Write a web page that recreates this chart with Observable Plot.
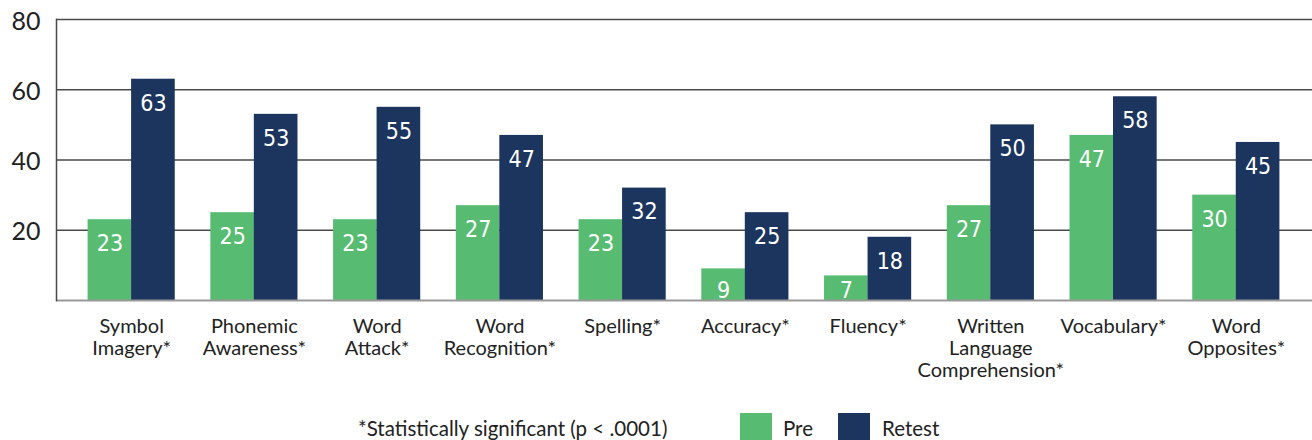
<!DOCTYPE html>
<html>
<head>
<meta charset="utf-8">
<script src="https://cdn.jsdelivr.net/npm/d3@7"></script>
<script src="https://cdn.jsdelivr.net/npm/@observablehq/plot@0.6"></script>
<style>
  html, body { margin: 0; padding: 0; background: #fff; }
  #chart { width: 1312px; }
  #legend { position: relative; width: 1312px; height: 35px; font-family: Lato, "Noto Sans", sans-serif; font-size: 20.5px; color: #222; overflow: hidden; }
  #legend .note { position: absolute; left: 358px; top: 11px; }
  #legend .sw { position: absolute; top: 8px; width: 32px; height: 32px; }
  #legend .lab { position: absolute; top: 11px; }
</style>
</head>
<body>
<div id="chart"></div>
<div id="legend"></div>
<script>
const categories = ["Symbol\nImagery*", "Phonemic\nAwareness*", "Word\nAttack*", "Word\nRecognition*", "Spelling*", "Accuracy*", "Fluency*", "Written\nLanguage\nComprehension*", "Vocabulary*", "Word\nOpposites*"];
const series = ["Pre", "Retest"];
const preValues = [23, 25, 23, 27, 23, 9, 7, 27, 47, 30];
const retestValues = [63, 53, 55, 47, 32, 25, 18, 50, 58, 45];
const yTicks = [20, 40, 60, 80];
const colors = ["#57bb72", "#1c355e"];
const note = "*Statistically significant (p < .0001)";

const data = [];
categories.forEach((c, i) => {
  data.push({category: c, series: "Pre", value: preValues[i]});
  data.push({category: c, series: "Retest", value: retestValues[i]});
});
const pre = data.filter(d => d.series === "Pre");
const retest = data.filter(d => d.series === "Retest");

const half = 43.5;
const labelFont = {fontFamily: '"Liberation Sans Narrow", "DejaVu Sans Condensed", sans-serif', fontSize: 23, fill: "white", dy: 24};

const chart = Plot.plot({
  width: 1312,
  height: 405,
  marginLeft: 56,
  marginRight: 0,
  marginTop: 19,
  marginBottom: 105,
  style: {fontFamily: 'Lato, "Noto Sans", sans-serif', color: "#222", background: "white"},
  x: {domain: categories, range: [52, 1315], padding: 0.29, round: false, label: null},
  y: {domain: [0, 80], label: null},
  color: {domain: series, range: colors},
  marks: [
    Plot.ruleY(yTicks, {stroke: "#4a4a4a", strokeWidth: 1.5}),
    Plot.barY(pre, {x: "category", y: "value", fill: "series", insetRight: half}),
    Plot.barY(retest, {x: "category", y: "value", fill: "series", insetLeft: half}),
    Plot.text(pre, {x: "category", y: d => Math.max(d.value, 9.7), text: "value", dx: -half / 2, ...labelFont}),
    Plot.text(retest, {x: "category", y: d => Math.max(d.value, 9.7), text: "value", dx: half / 2, ...labelFont}),
    Plot.ruleY([0], {stroke: "#999", strokeWidth: 2}),
    Plot.frame({anchor: "left", stroke: "#4a4a4a", strokeWidth: 1.5}),
    Plot.axisY({ticks: yTicks, tickSize: 0, tickPadding: 16, fontSize: 25, label: null, dy: 2}),
    Plot.axisX({tickSize: 0, tickPadding: 17, fontSize: 20, lineHeight: 1.1, label: null})
  ]
});
document.getElementById("chart").appendChild(chart);

const legend = document.getElementById("legend");
legend.innerHTML = `<span class="note"></span>` +
  series.map((s, i) => `<span class="sw" style="left:${[740, 838][i]}px;background:${colors[i]}"></span><span class="lab" style="left:${[783, 882][i]}px">${s}</span>`).join("");
legend.querySelector(".note").textContent = note;
</script>
</body>
</html>
